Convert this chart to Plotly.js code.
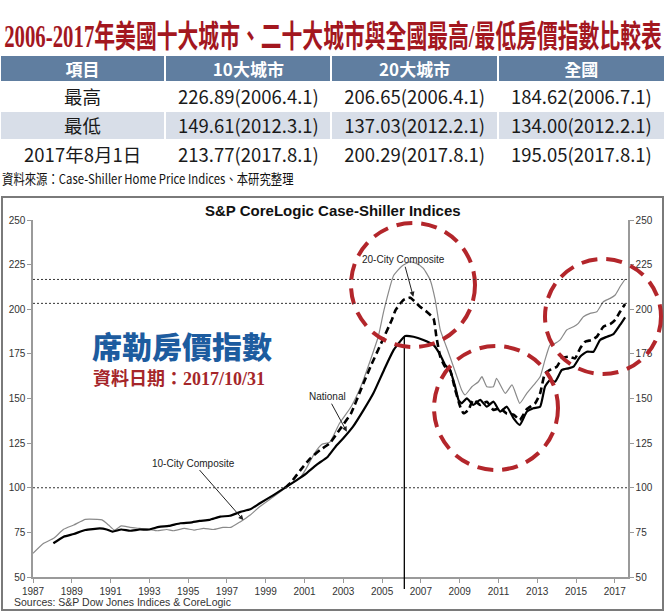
<!DOCTYPE html>
<html>
<head>
<meta charset="utf-8">
<script src="https://cdn.plot.ly/plotly-3.0.1.min.js"></script>
<style>
  html, body { margin: 0; padding: 0; background: #fff; }
  #chart { width: 665px; height: 612px; }
</style>
</head>
<body>
<div id="chart"></div>
<script>
// ---------------- DATA ----------------
var tableHeader = ['項目', '10大城市', '20大城市', '全國'];
var rowLabels = ['最高', '最低', '2017年8月1日'];
var tenCityStats = ['226.89(2006.4.1)', '149.61(2012.3.1)', '213.77(2017.8.1)'];
var twentyCityStats = ['206.65(2006.4.1)', '137.03(2012.2.1)', '200.29(2017.8.1)'];
var nationalStats = ['184.62(2006.7.1)', '134.00(2012.2.1)', '195.05(2017.8.1)'];

var tenCityYears = [1987.0, 1987.55, 1988.07, 1988.58, 1989.1, 1989.7, 1990.3, 1990.56, 1990.9, 1991.2,
  1991.55, 1992.0, 1992.5, 1993.0, 1993.4, 1993.9, 1994.25, 1994.8, 1995.3, 1995.8,
  1996.3, 1996.8, 1997.2, 1997.7, 1998.2, 1998.7, 1999.4, 2000.1, 2000.8, 2001.1,
  2001.5, 2001.9, 2002.3, 2002.8, 2003.4, 2003.9, 2004.4, 2004.8, 2005.1, 2005.6,
  2006.0, 2006.44, 2006.8, 2007.13, 2007.48, 2007.74, 2008.0, 2008.25, 2008.5, 2008.86,
  2009.1, 2009.28, 2009.63, 2009.97, 2010.15, 2010.4, 2010.74, 2010.9, 2011.35, 2011.7,
  2012.1, 2012.46, 2012.89, 2013.15, 2013.4, 2013.66, 2013.92, 2014.18, 2014.52, 2014.87,
  2015.12, 2015.38, 2015.73, 2016.07, 2016.41, 2016.76, 2017.02, 2017.27, 2017.53];
var tenCity = [63.3, 68.9, 71.7, 76.7, 79.1, 82.3, 82.3, 82.0, 79.1, 76.3,
  78.6, 77.8, 77.2, 76.6, 75.9, 76.6, 75.9, 77.2, 76.3, 77.2,
  76.6, 77.8, 77.8, 81.0, 84.7, 89.5, 95.0, 100.6, 106.0, 111.0,
  119.0, 124.3, 125.5, 136.0, 145.4, 156.6, 171.6, 184.6, 199.6, 219.0,
  224.0, 226.6, 225.5, 222.9, 216.4, 205.2, 188.4, 180.9, 173.4, 162.2,
  154.8, 152.0, 156.6, 159.4, 162.2, 156.6, 156.6, 161.3, 152.9, 157.6,
  147.3, 152.9, 158.5, 162.2, 171.6, 180.0, 180.9, 182.8, 188.4, 190.2,
  192.1, 195.8, 197.7, 198.6, 204.2, 206.1, 208.0, 212.6, 216.8];

var twentyCityYears = [2000.0, 2000.3, 2000.8, 2001.3, 2001.8, 2002.3, 2002.8, 2003.4, 2003.9, 2004.4,
  2004.95, 2005.5, 2005.7, 2006.1, 2006.45, 2006.96, 2007.3, 2007.65, 2007.8, 2008.0,
  2008.25, 2008.5, 2008.77, 2009.03, 2009.2, 2009.45, 2009.7, 2010.06, 2010.4, 2010.74,
  2011.09, 2011.43, 2011.78, 2012.1, 2012.46, 2012.89, 2013.15, 2013.4, 2013.66, 2014.01,
  2014.27, 2014.61, 2014.95, 2015.21, 2015.47, 2015.81, 2016.07, 2016.41, 2016.76, 2017.02,
  2017.27, 2017.53];
var twentyCity = [100.0, 103.0, 110.0, 116.5, 121.1, 124.9, 132.4, 141.7, 154.8, 167.8,
  180.9, 194.0, 199.6, 205.2, 206.5, 201.4, 198.6, 194.9, 184.6, 173.4,
  167.8, 166.0, 154.8, 145.4, 141.7, 143.6, 149.2, 146.4, 148.2, 143.6,
  144.5, 141.5, 141.0, 138.0, 144.0, 147.3, 152.9, 164.1, 166.0, 167.8,
  172.5, 173.4, 172.5, 178.1, 181.8, 182.8, 184.6, 190.2, 191.7, 194.0,
  198.6, 202.9];

var nationalYears = [1988.05, 1988.58, 1989.1, 1989.7, 1990.45, 1990.8, 1991.1, 1991.55, 1992.0, 1992.5,
  1993.0, 1993.5, 1994.0, 1994.6, 1995.1, 1995.6, 1996.1, 1996.65, 1997.15, 1997.7,
  1998.2, 1998.7, 1999.4, 2000.08, 2000.6, 2001.1, 2001.6, 2002.2, 2002.6, 2003.0,
  2003.5, 2004.05, 2004.55, 2005.1, 2005.6, 2006.19, 2006.62, 2007.13, 2007.65, 2008.0,
  2008.25, 2008.5, 2008.77, 2008.94, 2009.1, 2009.37, 2009.7, 2010.06, 2010.4, 2010.74,
  2011.09, 2011.43, 2011.78, 2012.1, 2012.46, 2012.8, 2013.15, 2013.4, 2013.66, 2013.92,
  2014.27, 2014.61, 2014.87, 2015.21, 2015.56, 2015.9, 2016.24, 2016.59, 2016.93, 2017.27,
  2017.53];
var national = [68.9, 72.6, 74.1, 76.3, 77.2, 76.6, 75.4, 76.6, 75.9, 76.6,
  76.6, 78.1, 78.6, 80.1, 80.5, 81.4, 82.0, 83.8, 84.3, 86.5,
  87.9, 91.3, 95.9, 100.6, 104.3, 108.1, 112.7, 117.4, 123.0, 127.7,
  134.2, 143.6, 152.9, 166.0, 177.2, 185.0, 184.6, 182.8, 180.0, 174.4,
  168.8, 166.0, 156.6, 149.2, 147.3, 150.1, 146.4, 149.2, 145.4, 148.2,
  142.6, 145.4, 138.9, 135.2, 142.6, 144.5, 145.4, 156.6, 160.4, 159.4,
  166.0, 166.9, 167.8, 173.4, 176.2, 176.2, 182.8, 184.6, 186.1, 191.2,
  195.5];

var xTickYears = [1987, 1989, 1991, 1993, 1995, 1997, 1999, 2001, 2003, 2005, 2007, 2009, 2011, 2013, 2015, 2017];
var xTickLabels = ['1987', '1989', '1991', '1993', '1995', '1997', '1999', '2001', '2003', '2005', '2007', '2009', '2011', '2013', '2015', '2017'];
var yTicks = [50, 75, 100, 125, 150, 175, 200, 225, 250];
var yTickLabels = ['50', '75', '100', '125', '150', '175', '200', '225', '250'];
var referenceLevels = [100, 216.7, 203.3];
var peakYear = 2006.15, peakValue = 185;

// ---------------- LAYOUT HELPERS (pixel -> paper) ----------------
var W = 665, H = 612;
function px(x) { return x / W; }
function py(y) { return (H - y) / H; }

var cjk = '"Noto Sans CJK TC", "Noto Sans CJK SC", sans-serif';
var arial = '"Liberation Sans", Arial, sans-serif';

var data = [
  {
    type: 'table',
    domain: { x: [0, 1], y: [py(169), py(55)] },
    columnwidth: [165, 166, 166, 167],
    header: {
      values: tableHeader,
      height: 27,
      align: 'center',
      fill: { color: '#607ea0' },
      line: { color: '#ffffff', width: 2 },
      font: { family: cjk, size: 17, color: '#ffffff', weight: 700 }
    },
    cells: {
      values: [rowLabels, tenCityStats, twentyCityStats, nationalStats],
      height: 29,
      align: 'center',
      fill: { color: [
        ['#ffffff', '#d8dee8', '#ffffff'],
        ['#ffffff', '#d8dee8', '#ffffff'],
        ['#ffffff', '#d8dee8', '#ffffff'],
        ['#ffffff', '#d8dee8', '#ffffff']
      ] },
      line: { color: '#ffffff', width: 2 },
      font: { family: cjk, size: 18.5, color: '#1a1a1a' }
    }
  },
  {
    type: 'scatter', mode: 'lines', name: '10-City Composite',
    x: tenCityYears, y: tenCity, xaxis: 'x', yaxis: 'y',
    line: { color: '#8a8a8a', width: 1.2, shape: 'spline', smoothing: 0.45 },
    hoverinfo: 'skip'
  },
  {
    type: 'scatter', mode: 'lines', name: '20-City Composite',
    x: twentyCityYears, y: twentyCity, xaxis: 'x', yaxis: 'y',
    line: { color: '#000000', width: 2.6, dash: '7px,4px', shape: 'spline', smoothing: 0.45 },
    hoverinfo: 'skip'
  },
  {
    type: 'scatter', mode: 'lines', name: 'National',
    x: nationalYears, y: national, xaxis: 'x', yaxis: 'y2',
    line: { color: '#000000', width: 2.2, shape: 'spline', smoothing: 0.45 },
    hoverinfo: 'skip'
  }
];

var axisFont = { family: arial, size: 10, color: '#333333' };
var yAxisCommon = {
  range: [50, 250],
  domain: [py(577), py(220)],
  tickmode: 'array', tickvals: yTicks, ticktext: yTickLabels,
  ticks: 'outside', ticklen: 4, tickcolor: '#999999', tickwidth: 1,
  showline: true, linecolor: '#9a9a9a', linewidth: 1.6,
  showgrid: false, zeroline: false,
  tickfont: axisFont, fixedrange: true
};

var shapes = [
  // outer chart frame
  { type: 'rect', xref: 'paper', yref: 'paper', x0: px(2), x1: px(663), y0: py(610), y1: py(197),
    line: { color: '#7a7a7a', width: 2 } },
  // vertical marker at national peak
  { type: 'line', xref: 'paper', yref: 'paper',
    x0: px(33 + (peakYear - 1987) * 19.39), x1: px(33 + (peakYear - 1987) * 19.39),
    y0: py(589), y1: py(577 - (peakValue - 50) * 1.785),
    line: { color: '#000000', width: 1.3 } },
  // red dashed circles
  { type: 'circle', xref: 'paper', yref: 'paper', x0: px(351), x1: px(475), y0: py(347), y1: py(223),
    line: { color: '#b3262b', width: 4, dash: '16px,9px' } },
  { type: 'circle', xref: 'paper', yref: 'paper', x0: px(434), x1: px(558), y0: py(470), y1: py(346),
    line: { color: '#b3262b', width: 4, dash: '16px,9px' } },
  { type: 'circle', xref: 'paper', yref: 'paper', x0: px(545), x1: px(661), y0: py(374), y1: py(259),
    line: { color: '#b3262b', width: 4, dash: '16px,9px' } }
];
referenceLevels.forEach(function (v) {
  shapes.push({ type: 'line', xref: 'paper', yref: 'y', x0: px(33), x1: px(628), y0: v, y1: v,
    line: { color: '#333333', width: 1, dash: '2px,2px' } });
});

var annotations = [
  { // main title (index 0)
    xref: 'paper', yref: 'paper', x: px(2), y: py(36), xanchor: 'left', yanchor: 'middle',
    text: '2006-2017年美國十大城市、二十大城市與全國最高/最低房價指數比較表', showarrow: false,
    font: { family: '"Liberation Serif", ' + cjk, size: 31, color: '#a3171f', weight: 700 }
  },
  { // source line (index 1)
    xref: 'paper', yref: 'paper', x: px(0), y: py(178), xanchor: 'left', yanchor: 'middle',
    text: '資料來源：Case-Shiller Home Price Indices、本研究整理', showarrow: false,
    font: { family: cjk, size: 13.5, color: '#111111' }
  },
  { // chart title
    xref: 'paper', yref: 'paper', x: px(333), y: py(210), xanchor: 'center', yanchor: 'middle',
    text: 'S&amp;P CoreLogic Case-Shiller Indices', showarrow: false,
    font: { family: arial, size: 15, color: '#111111', weight: 700 }
  },
  { // sources
    xref: 'paper', yref: 'paper', x: px(12), y: py(602), xanchor: 'left', yanchor: 'middle',
    text: 'Sources: S&amp;P Dow Jones Indices &amp; CoreLogic', showarrow: false,
    font: { family: arial, size: 10.5, color: '#333333' }
  },
  { // blue label
    xref: 'paper', yref: 'paper', x: px(90), y: py(345), xanchor: 'left', yanchor: 'middle',
    text: '席勒房價指數', showarrow: false,
    font: { family: cjk, size: 30, color: '#1d5c9f', weight: 900 }
  },
  { // date label
    xref: 'paper', yref: 'paper', x: px(91), y: py(379), xanchor: 'left', yanchor: 'middle',
    text: '資料日期：2017/10/31', showarrow: false,
    font: { family: '"Liberation Serif", ' + cjk, size: 18, color: '#a5262a', weight: 700 }
  },
  { // series labels with arrows
    xref: 'x', yref: 'y', x: 1997.85, y: 81.9, ax: -50, ay: -57,
    text: '10-City Composite', showarrow: true, arrowhead: 2, arrowsize: 1, arrowwidth: 1,
    arrowcolor: '#222222', font: { family: arial, size: 10, color: '#222222' }
  },
  {
    xref: 'x', yref: 'y', x: 2006.61, y: 207, ax: -10, ay: -37,
    text: '20-City Composite', showarrow: true, arrowhead: 2, arrowsize: 1, arrowwidth: 1,
    arrowcolor: '#222222', font: { family: arial, size: 10, color: '#222222' }
  },
  {
    xref: 'x', yref: 'y', x: 2003.18, y: 131.4, ax: -19, ay: -35,
    text: 'National', showarrow: true, arrowhead: 2, arrowsize: 1, arrowwidth: 1,
    arrowcolor: '#222222', font: { family: arial, size: 10, color: '#222222' }
  }
];

var layout = {
  width: W, height: H,
  margin: { l: 0, r: 0, t: 0, b: 0, pad: 0 },
  paper_bgcolor: '#ffffff', plot_bgcolor: '#ffffff',
  showlegend: false,
  xaxis: {
    range: [1987, 2017.68],
    domain: [px(33), px(628)],
    anchor: 'y',
    tickmode: 'array', tickvals: xTickYears, ticktext: xTickLabels,
    ticks: 'outside', ticklen: 4, tickcolor: '#999999', tickwidth: 1,
    showline: true, linecolor: '#9a9a9a', linewidth: 1.6,
    showgrid: false, zeroline: false,
    tickfont: axisFont, fixedrange: true
  },
  yaxis: Object.assign({}, yAxisCommon, { anchor: 'x', side: 'left' }),
  yaxis2: Object.assign({}, yAxisCommon, { anchor: 'x', side: 'right', overlaying: 'y' }),
  shapes: shapes,
  annotations: annotations
};

function condense(gd, idx, targetWidth) {
  var g = gd.querySelector('.annotation[data-index="' + idx + '"]');
  if (!g) return;
  var t = g.querySelector('text.annotation-text');
  if (!t) return;
  var bb = t.getBBox();
  if (!bb.width) return;
  var s = targetWidth / bb.width;
  t.setAttribute('transform', 'translate(' + bb.x + ',0) scale(' + s + ',1) translate(' + (-bb.x) + ',0)');
}

Plotly.newPlot('chart', data, layout, { staticPlot: true, displayModeBar: false }).then(function (gd) {
  condense(gd, 0, 658);
  condense(gd, 1, 292);
});
</script>
</body>
</html>
